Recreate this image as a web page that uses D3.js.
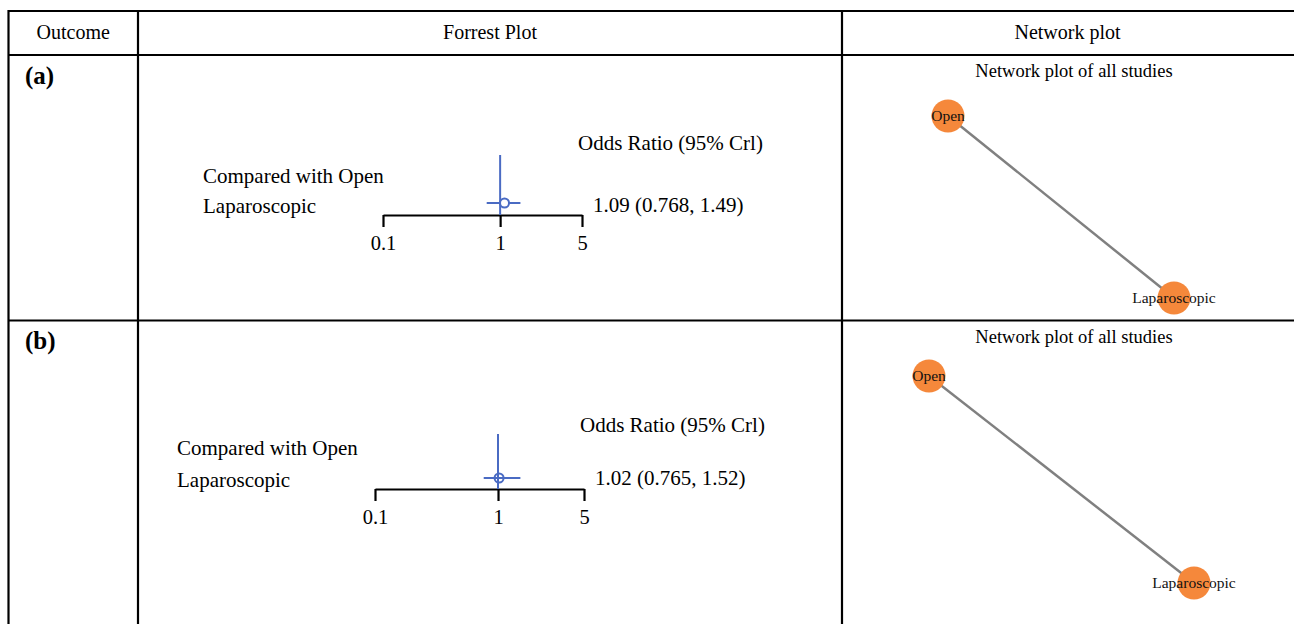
<!DOCTYPE html>
<html>
<head>
<meta charset="utf-8">
<script src="https://cdn.jsdelivr.net/npm/d3@7"></script>
<style>
  html, body { margin: 0; padding: 0; background: #fff; }
  svg { display: block; font-family: "Liberation Serif", "Times New Roman", serif; }
</style>
</head>
<body>
<script>
const width = 1294
const height = 624

// data
const headers = ["Outcome", "Forrest Plot", "Network plot"]
const outcomes = ["(a)", "(b)"]
const comparator = "Open"
const treatments = ["Laparoscopic", "Laparoscopic"]
const orMean = [1.09, 1.02]
const orLow = [0.768, 0.765]
const orHigh = [1.49, 1.52]
const orLabels = ["1.09 (0.768, 1.49)", "1.02 (0.765, 1.52)"]
const axisTicks = [0.1, 1, 5]
const nodeNames = ["Open", "Laparoscopic"]
const edges = [["Open", "Laparoscopic"]]
// relative node layout (0..1) of the network drawing
const nodeLayout = {Open: [0, 0], Laparoscopic: [1, 1]}

// layout per row
const rows = [
  {top: 55, axisY: 215, ax0: 383, ax1: 582, nullTop: 155, labX: 203, lab1: 183, lab2: 213,
   hdrX: 578, hdrY: 150, valX: 593, valY: 212, pY: 203, pointFill: "#fff",
   netTitleY: 77, nx: [948, 1174], ny: [116, 298]},
  {top: 320, axisY: 489, ax0: 375, ax1: 584, nullTop: 434, labX: 177, lab1: 455, lab2: 487,
   hdrX: 580, hdrY: 432, valX: 595, valY: 485, pY: 478, pointFill: "none",
   netTitleY: 343, nx: [929, 1194], ny: [376, 583]}
]

const colX = [8.5, 138, 842, width + 5]
const blue = "#4a6bc3"
const orange = "#f5883b"

const svg = d3.select("body").append("svg").attr("width", width).attr("height", height)

// table grid
const grid = svg.append("g").attr("stroke", "#000").attr("stroke-width", 2.2)
grid.append("line").attr("x1", colX[0]).attr("x2", width).attr("y1", 11).attr("y2", 11)
grid.append("line").attr("x1", colX[0]).attr("x2", width).attr("y1", 55).attr("y2", 55)
grid.append("line").attr("x1", colX[0]).attr("x2", width).attr("y1", 320.5).attr("y2", 320.5)
colX.slice(0, 3).forEach(x => {
  grid.append("line").attr("x1", x).attr("x2", x).attr("y1", 10).attr("y2", height + 5)
})

// header
svg.append("g").selectAll("text").data(headers).join("text")
  .attr("x", (d, i) => (colX[i] + Math.min(colX[i + 1], 1293)) / 2)
  .attr("y", 39)
  .attr("text-anchor", "middle")
  .attr("font-size", 20)
  .text(d => d)

rows.forEach((r, i) => {
  const g = svg.append("g")

  // outcome label
  g.append("text").attr("x", 25).attr("y", r.top + 29)
    .attr("font-size", 25).attr("font-weight", "bold").text(outcomes[i])

  // forest plot
  const x = d3.scaleLog().domain([0.1, 5]).range([r.ax0, r.ax1])

  g.append("text").attr("x", r.labX).attr("y", r.lab1).attr("font-size", 21)
    .text("Compared with " + comparator)
  g.append("text").attr("x", r.labX).attr("y", r.lab2).attr("font-size", 21)
    .text(treatments[i])

  g.append("text").attr("x", r.hdrX).attr("y", r.hdrY).attr("font-size", 21)
    .text("Odds Ratio (95% Crl)")
  g.append("text").attr("x", r.valX).attr("y", r.valY).attr("font-size", 21)
    .text(orLabels[i])

  const axis = g.append("g").attr("transform", `translate(0,${r.axisY})`)
    .call(d3.axisBottom(x).tickValues(axisTicks).tickFormat(d => String(d)).tickSize(12).tickSizeOuter(0).tickPadding(8))
  axis.select(".domain").attr("stroke-width", 2.2)
  axis.selectAll(".tick line").attr("stroke-width", 2.2)
  axis.selectAll(".tick text").attr("font-size", 20.5).attr("fill", "#000")
    .attr("font-family", "Liberation Serif, Times New Roman, serif")

  // point estimate and CI
  g.append("circle").attr("cx", x(orMean[i])).attr("cy", r.pY).attr("r", 4.5)
    .attr("fill", r.pointFill).attr("stroke", blue).attr("stroke-width", 2)
  const over = r.pointFill === "none" ? g : g.insert("g", "circle")
  over.append("line").attr("x1", x(1)).attr("x2", x(1)).attr("y1", r.nullTop).attr("y2", r.axisY)
    .attr("stroke", blue).attr("stroke-width", 2)
  over.append("line").attr("x1", x(orLow[i])).attr("x2", x(orHigh[i])).attr("y1", r.pY).attr("y2", r.pY)
    .attr("stroke", blue).attr("stroke-width", 2)

  // network plot
  const nx = d3.scaleLinear().domain([0, 1]).range(r.nx)
  const ny = d3.scaleLinear().domain([0, 1]).range(r.ny)

  g.append("text").attr("x", (colX[2] + 1306) / 2).attr("y", r.netTitleY)
    .attr("text-anchor", "middle").attr("font-size", 18.5).text("Network plot of all studies")

  g.append("g").selectAll("line").data(edges).join("line")
    .attr("x1", d => nx(nodeLayout[d[0]][0])).attr("y1", d => ny(nodeLayout[d[0]][1]))
    .attr("x2", d => nx(nodeLayout[d[1]][0])).attr("y2", d => ny(nodeLayout[d[1]][1]))
    .attr("stroke", "#808080").attr("stroke-width", 2.5)

  const node = g.append("g").selectAll("g").data(nodeNames).join("g")
    .attr("transform", d => `translate(${nx(nodeLayout[d][0])},${ny(nodeLayout[d][1])})`)
  node.append("circle").attr("r", 16.5).attr("fill", orange)
  node.append("text").attr("text-anchor", "middle").attr("dy", "0.33em")
    .attr("font-size", 15.5).attr("fill", "#111").text(d => d)
})
</script>
</body>
</html>
